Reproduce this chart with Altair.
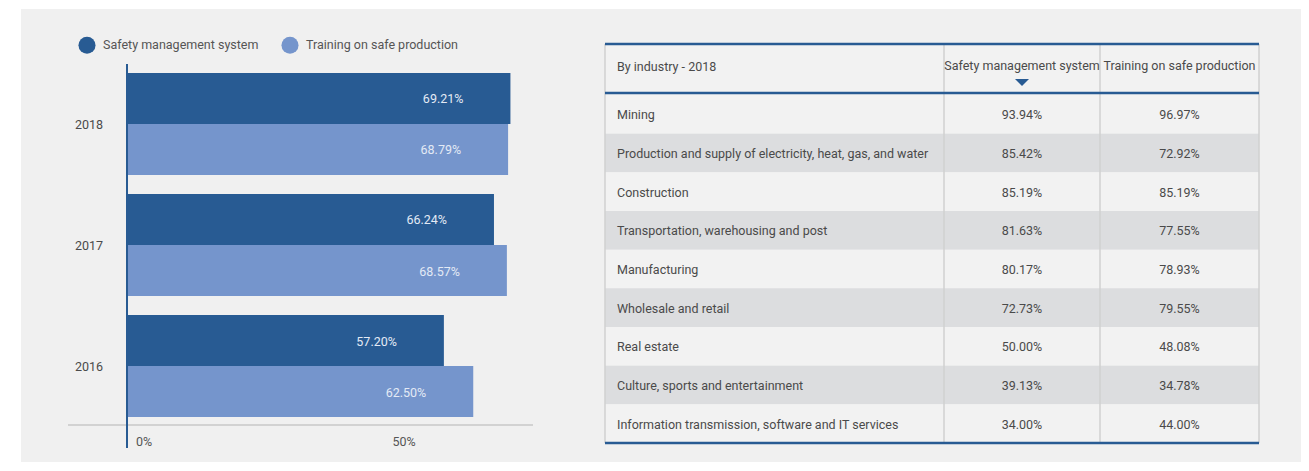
import altair as alt
import pandas as pd

# ---------------- data ----------------
years = ["2018", "2017", "2016"]
series = ["Safety management system", "Training on safe production"]
sms_by_year = [69.21, 66.24, 57.20]
training_by_year = [68.79, 68.57, 62.50]
x_ticks = [0, 50]

table_header = ["By industry - 2018", "Safety management system", "Training on safe production"]
industries = [
    "Mining",
    "Production and supply of electricity, heat, gas, and water",
    "Construction",
    "Transportation, warehousing and post",
    "Manufacturing",
    "Wholesale and retail",
    "Real estate",
    "Culture, sports and entertainment",
    "Information transmission, software and IT services",
]
sms_by_industry = [93.94, 85.42, 85.19, 81.63, 80.17, 72.73, 50.00, 39.13, 34.00]
training_by_industry = [96.97, 72.92, 85.19, 77.55, 78.93, 79.55, 48.08, 34.78, 44.00]

# ---------------- style ----------------
DARK = "#285b93"
LIGHT = "#7595cc"
FONT = "Roboto"
FS = 12.5
TXT = "#4a4a4a"

# ---------------- left: bar chart ----------------
rows = []
for y, a, b in zip(years, sms_by_year, training_by_year):
    rows.append({"year": y, "series": series[0], "value": a, "label": f"{a:.2f}%"})
    rows.append({"year": y, "series": series[1], "value": b, "label": f"{b:.2f}%"})
bars_df = pd.DataFrame(rows)

xs = alt.Scale(domain=[0, 100], range=[106, 660])
ys = alt.Scale(domain=years, range=[55, 417], paddingInner=0.157, paddingOuter=0.074)
yo = alt.Scale(domain=series, paddingInner=0, paddingOuter=0)
cs = alt.Scale(domain=series, range=[DARK, LIGHT])

bars = alt.Chart(bars_df).mark_bar().encode(
    x=alt.X("value:Q", scale=xs, axis=None),
    y=alt.Y("year:N", scale=ys, axis=None),
    yOffset=alt.YOffset("series:N", scale=yo),
    color=alt.Color(
        "series:N",
        scale=cs,
        legend=alt.Legend(
            orient="none", legendX=57, legendY=27, direction="horizontal",
            title=None, symbolType="circle", symbolSize=290, symbolStrokeWidth=0,
            labelFont=FONT, labelFontSize=FS, labelColor="#555555", labelLimit=400,
            columnPadding=22, labelOffset=7,
        ),
    ),
)

bar_labels = alt.Chart(bars_df).mark_text(
    align="right", baseline="middle", dx=-47, dy=1, color="#e3eaf5", font=FONT, fontSize=FS
).encode(
    x=alt.X("value:Q", scale=xs, axis=None),
    y=alt.Y("year:N", scale=ys, axis=None),
    yOffset=alt.YOffset("series:N", scale=yo),
    text="label:N",
)

year_labels = alt.Chart(pd.DataFrame({"year": years})).mark_text(
    align="right", baseline="middle", dy=1, font=FONT, fontSize=FS, color=TXT
).encode(
    x=alt.value(82),
    y=alt.Y("year:N", scale=ys, axis=None),
    text="year:N",
)

base_line = alt.Chart(pd.DataFrame({"v": [0]})).mark_rule(color="#c8c8c8", strokeWidth=1.5).encode(
    x=alt.value(47), x2=alt.value(512), y=alt.value(416)
)

axis_line = alt.Chart(pd.DataFrame({"v": [0]})).mark_rule(color=DARK, strokeWidth=2).encode(
    x=alt.X("v:Q", scale=xs, axis=None), y=alt.value(55), y2=alt.value(439)
)

tick_df = pd.DataFrame({"v": x_ticks, "label": [f"{t}%" for t in x_ticks]})
tick0 = alt.Chart(tick_df).transform_filter("datum.v == 0").mark_text(
    align="left", baseline="middle", dx=9, font=FONT, fontSize=FS, color="#555555"
).encode(x=alt.X("v:Q", scale=xs, axis=None), y=alt.value(433), text="label:N")
tick_rest = alt.Chart(tick_df).transform_filter("datum.v != 0").mark_text(
    align="center", baseline="middle", font=FONT, fontSize=FS, color="#555555"
).encode(x=alt.X("v:Q", scale=xs, axis=None), y=alt.value(433), text="label:N")

left = alt.layer(base_line, bars, bar_labels, axis_line, year_labels, tick0, tick_rest)

# ---------------- right: table ----------------
COL_EDGES = [0, 339, 495, 654]
PAD = 12
HEAD = -1.318
tx = alt.Scale(domain=[0, 654], range=[584, 1238])
ty = alt.Scale(domain=[HEAD, 9], range=[35, 434])

n = len(industries)
tab_df = pd.DataFrame({
    "i": list(range(n)),
    "industry": industries,
    "sms": [f"{v:.2f}%" for v in sms_by_industry],
    "tr": [f"{v:.2f}%" for v in training_by_industry],
})
tab_df["y0"] = tab_df["i"]
tab_df["y1"] = tab_df["i"] + 1
tab_df["ym"] = tab_df["i"] + 0.5
tab_df["shade"] = tab_df["i"] % 2 == 1
tab_df["x0"] = COL_EDGES[0]
tab_df["x1"] = COL_EDGES[-1]
tab_df["xl"] = COL_EDGES[0] + PAD
tab_df["xc1"] = (COL_EDGES[1] + COL_EDGES[2]) / 2
tab_df["xc2"] = (COL_EDGES[2] + COL_EDGES[3]) / 2

X = lambda f: alt.X(f, scale=tx, axis=None)
Y = lambda f: alt.Y(f, scale=ty, axis=None)

header_bg = alt.Chart(pd.DataFrame({"x0": [COL_EDGES[0]], "x1": [COL_EDGES[-1]], "y0": [HEAD], "y1": [0]})).mark_rect(
    fill="#f2f2f2"
).encode(x=X("x0:Q"), x2="x1:Q", y=Y("y0:Q"), y2="y1:Q")

row_bg = alt.Chart(tab_df).mark_rect().encode(
    x=X("x0:Q"), x2="x1:Q", y=Y("y0:Q"), y2="y1:Q",
    fill=alt.condition("datum.shade", alt.value("#dcdddf"), alt.value("#f2f2f2")),
)

vlines = alt.Chart(pd.DataFrame({"x": COL_EDGES, "y0": HEAD, "y1": 9})).mark_rule(
    color="#d0d0d0", strokeWidth=1.5
).encode(x=X("x:Q"), y=Y("y0:Q"), y2="y1:Q")

hlines = alt.Chart(pd.DataFrame({"y": [HEAD, -0.05, 9], "x0": COL_EDGES[0], "x1": COL_EDGES[-1]})).mark_rule(
    color=DARK, strokeWidth=2.5
).encode(x=X("x0:Q"), x2="x1:Q", y=Y("y:Q"))

txt = dict(baseline="middle", dy=1, font=FONT, fontSize=FS, color=TXT)
ind_text = alt.Chart(tab_df).mark_text(align="left", **txt).encode(x=X("xl:Q"), y=Y("ym:Q"), text="industry:N")
sms_text = alt.Chart(tab_df).mark_text(align="center", **txt).encode(x=X("xc1:Q"), y=Y("ym:Q"), text="sms:N")
tr_text = alt.Chart(tab_df).mark_text(align="center", **txt).encode(x=X("xc2:Q"), y=Y("ym:Q"), text="tr:N")

head_df = pd.DataFrame({
    "label": table_header,
    "x": [COL_EDGES[0] + PAD, (COL_EDGES[1] + COL_EDGES[2]) / 2, (COL_EDGES[2] + COL_EDGES[3]) / 2],
    "first": [True, False, False],
    "y": [-0.75, -0.78, -0.78],
})
head_left = alt.Chart(head_df).transform_filter("datum.first").mark_text(align="left", **txt).encode(
    x=X("x:Q"), y=Y("y:Q"), text="label:N")
head_cols = alt.Chart(head_df).transform_filter("!datum.first").mark_text(align="center", **txt).encode(
    x=X("x:Q"), y=Y("y:Q"), text="label:N")

sort_mark = alt.Chart(pd.DataFrame({"x": [(COL_EDGES[1] + COL_EDGES[2]) / 2], "y": [-0.32]})).mark_point(
    shape="M-1,-0.5L1,-0.5L0,0.5Z", filled=True, size=196, color=DARK, opacity=1
).encode(x=X("x:Q"), y=Y("y:Q"))

table = alt.layer(header_bg, row_bg, vlines, hlines, ind_text, sms_text, tr_text, head_left, head_cols, sort_mark)

chart = (
    alt.layer(left, table)
    .resolve_scale(x="independent", y="independent")
    .properties(
        width=1280, height=453,
        padding={"left": 13, "top": 1, "right": 0, "bottom": 0},
        autosize=alt.AutoSizeParams(type="none"),
    )
    .configure(background="white")
    .configure_view(fill="#f0f0f0", strokeWidth=0)
)

chart.save("out.html", embed_options={"renderer": "svg", "actions": False})
